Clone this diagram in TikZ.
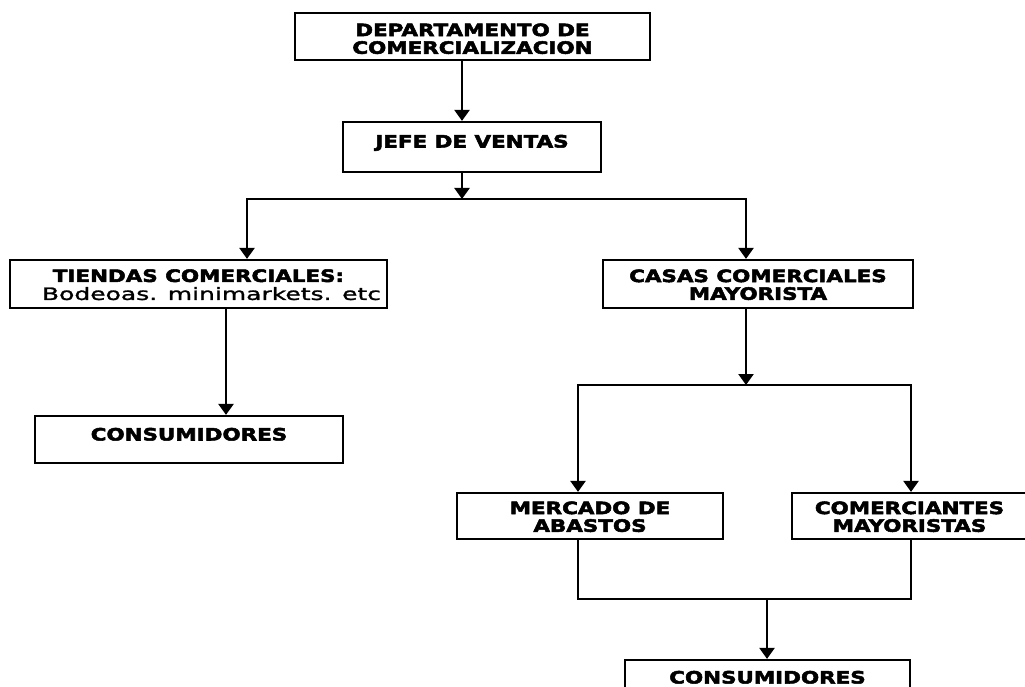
\documentclass[tikz,border=0pt]{standalone}
\usepackage{fontspec}
\setmainfont{DejaVu Sans}
\newfontfamily\boxfont{DejaVu Sans}[FakeStretch=1.26,FakeBold=3]
\newfontfamily\subfont{DejaVu Sans}[FakeStretch=1.47,FakeBold=1.5]
\usetikzlibrary{arrows.meta}

% label placed with zero size, shifted vertically by #1
\newcommand\oneline[2]{\raisebox{#1}[0pt][0pt]{#2}}
\newcommand\twoline[3]{\raisebox{#1}[0pt][0pt]{\begin{tabular}{@{}c@{}}#2\\#3\end{tabular}}}

\tikzset{
  orgbox/.style={draw, line width=2.2pt, inner sep=0pt, align=center,
    font=\boxfont\bfseries\fontsize{17}{17}\selectfont},
  link/.style={line width=2.4pt},
  tip/.tip={Triangle[width=15pt,length=11pt]},
  arr/.style={link, -tip},
  arrboth/.style={link, tip-tip},
}

\begin{document}
\begin{tikzpicture}[x=1pt,y=-1pt]
  \useasboundingbox (0,0) rectangle (1025,687);
  \clip (0,0) rectangle (1025,687);

  % boxes
  \node[orgbox, minimum width=355pt, minimum height=47pt] (dep) at (472.5,36.5)
    {\twoline{-9pt}{DEPARTAMENTO DE}{COMERCIALIZACION}};
  \node[orgbox, minimum width=258pt, minimum height=50pt] (jefe) at (472,147)
    {\oneline{-0.5pt}{JEFE DE VENTAS}};
  \node[orgbox, minimum width=377pt, minimum height=48pt] (tiendas) at (198.5,284)
    {\twoline{-7.5pt}{TIENDAS COMERCIALES:}{\hspace*{26pt}{\subfont\mdseries\fontsize{17}{17}\selectfont Bodeoas. minimarkets. etc}}};
  \node[orgbox, minimum width=308pt, minimum height=47pt] (cons1) at (189,439.5)
    {\oneline{-1pt}{CONSUMIDORES}};
  \node[orgbox, minimum width=310pt, minimum height=48pt] (casas) at (758,284)
    {\twoline{-7.5pt}{CASAS COMERCIALES}{MAYORISTA}};
  \node[orgbox, minimum width=266pt, minimum height=46pt] (mercado) at (590,516)
    {\twoline{-7.5pt}{MERCADO DE}{ABASTOS}};
  \node[orgbox, minimum width=235pt, minimum height=46pt] (comer) at (909.5,516)
    {\twoline{-7.5pt}{COMERCIANTES}{MAYORISTAS}};
  \node[orgbox, minimum width=285pt, minimum height=48pt] (cons2) at (767.5,684)
    {\oneline{0.5pt}{CONSUMIDORES}};

  % routing points
  \coordinate (c1) at (462,0);
  \coordinate (b1L) at (247,199);
  \coordinate (b1R) at (746,199);
  \coordinate (c3) at (226,0);
  \coordinate (c4) at (746,0);
  \coordinate (b2L) at (578,385);
  \coordinate (b2R) at (911,385);
  \coordinate (m1) at (767,599);

  % connectors
  \draw[arr] (dep.south -| c1) -- (jefe.north -| c1);
  \draw[arr] (jefe.south -| c1) -- (c1 |- b1L);
  \draw[arrboth] (tiendas.north -| b1L) -- (b1L) -- (b1R) -- (casas.north -| b1R);
  \draw[arr] (tiendas.south -| c3) -- (cons1.north -| c3);
  \draw[arr] (casas.south -| c4) -- (c4 |- b2L);
  \draw[arrboth] (mercado.north -| b2L) -- (b2L) -- (b2R) -- (comer.north -| b2R);
  \draw[link] (mercado.south -| b2L) -- (b2L |- m1) -- (b2R |- m1) -- (comer.south -| b2R);
  \draw[arr] (m1) -- (cons2.north -| m1);
\end{tikzpicture}
\end{document}
